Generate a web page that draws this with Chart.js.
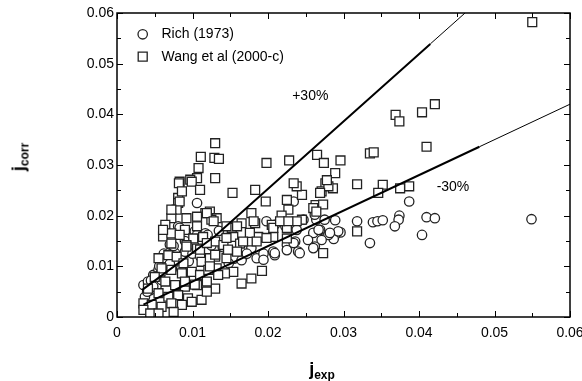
<!DOCTYPE html>
<html>
<head>
<meta charset="utf-8">
<script src="https://cdn.jsdelivr.net/npm/chart.js@4.4.1/dist/chart.umd.min.js"></script>
<style>
  html, body { margin: 0; padding: 0; background: #fff; }
  #wrap { position: relative; width: 582px; height: 381px; font-family: "Liberation Sans", Arial, sans-serif; }
  .axt { position: absolute; font-weight: bold; font-size: 18px; color: #000; white-space: nowrap; }
  .axt sub { font-size: 12px; vertical-align: -4px; }
  #ytitle { left: 20px; top: 157px; transform: translate(-50%, -50%) rotate(-90deg); }
  #xtitle { left: 322px; top: 370px; transform: translate(-50%, -50%); }
</style>
</head>
<body>
<div id="wrap">
  <canvas id="c" width="582" height="381"></canvas>
  <div class="axt" id="ytitle">j<sub>corr</sub></div>
  <div class="axt" id="xtitle">j<sub>exp</sub></div>
</div>
<script>
// Rich (1973) - cercles
var richX = [0.0387, 0.0374, 0.0373, 0.0368, 0.0410, 0.0421, 0.0404, 0.0335, 0.0318, 0.0339, 0.0345, 0.0352, 0.0549,
  0.0289, 0.0296, 0.0289, 0.0287, 0.0264, 0.0275, 0.0260, 0.0269, 0.0280, 0.0293, 0.0253, 0.0271, 0.0262,
  0.0185, 0.0194, 0.0207, 0.0209, 0.0225, 0.0236, 0.0225, 0.0240, 0.0198, 0.0209, 0.0223, 0.0238, 0.0247,
  0.0267, 0.0282, 0.0242, 0.0209, 0.0234, 0.0260, 0.0194, 0.0178, 0.0167, 0.0081, 0.0070, 0.0059, 0.0106,
  0.0234, 0.0262, 0.0083, 0.0103, 0.0035, 0.0041, 0.0048, 0.0055, 0.0064, 0.0068, 0.0077, 0.0090, 0.0106,
  0.0117, 0.0044, 0.0053, 0.0059, 0.0037, 0.0061, 0.0077, 0.0113, 0.0125, 0.0140, 0.0153, 0.0155, 0.0148,
  0.0165, 0.0172, 0.0120, 0.0135, 0.0045, 0.0052, 0.0060, 0.0048, 0.0040, 0.0056, 0.0070, 0.0085, 0.0095,
  0.0100, 0.0062, 0.0075, 0.0090, 0.0110];
var richY = [0.0228, 0.0200, 0.0192, 0.0179, 0.0197, 0.0195, 0.0162, 0.0146, 0.0189, 0.0187, 0.0189, 0.0191, 0.0193,
  0.0191, 0.0167, 0.0162, 0.0154, 0.0192, 0.0192, 0.0166, 0.0172, 0.0162, 0.0169, 0.0152, 0.0152, 0.0139,
  0.0116, 0.0125, 0.0129, 0.0122, 0.0142, 0.0149, 0.0132, 0.0129, 0.0189, 0.0182, 0.0179, 0.0172, 0.0192,
  0.0172, 0.0166, 0.0126, 0.0126, 0.0146, 0.0136, 0.0113, 0.0136, 0.0120, 0.0179, 0.0143, 0.0113, 0.0225,
  0.0228, 0.0202, 0.0176, 0.0169, 0.0063, 0.0070, 0.0083, 0.0093, 0.0109, 0.0119, 0.0122, 0.0129, 0.0162,
  0.0165, 0.0053, 0.0063, 0.0073, 0.0040, 0.0116, 0.0126, 0.0150, 0.0141, 0.0138, 0.0128, 0.0115, 0.0106,
  0.0112, 0.0125, 0.0162, 0.0170, 0.0072, 0.0080, 0.0090, 0.0060, 0.0050, 0.0100, 0.0105, 0.0095, 0.0110,
  0.0125, 0.0125, 0.0140, 0.0150, 0.0120];

// Wang et al (2000-c) - carres
var wangX = [0.0130, 0.0111, 0.0129, 0.0135, 0.0108, 0.0106, 0.0130, 0.0198, 0.0228, 0.0265, 0.0274, 0.0296, 0.0289,
  0.0083, 0.0097, 0.0550, 0.0369, 0.0374, 0.0404, 0.0421, 0.0410, 0.0335, 0.0340, 0.0286, 0.0318, 0.0352,
  0.0346, 0.0375, 0.0387, 0.0318, 0.0276, 0.0271, 0.0280, 0.0263, 0.0260, 0.0245, 0.0238, 0.0245, 0.0238,
  0.0153, 0.0183, 0.0197, 0.0234, 0.0225, 0.0227, 0.0178, 0.0218, 0.0123, 0.0132, 0.0152, 0.0165, 0.0183,
  0.0205, 0.0225, 0.0130, 0.0141, 0.0154, 0.0163, 0.0176, 0.0187, 0.0207, 0.0225, 0.0130, 0.0145, 0.0132,
  0.0154, 0.0143, 0.0130, 0.0165, 0.0178, 0.0192, 0.0099, 0.0110, 0.0082, 0.0081, 0.0081, 0.0079, 0.0072,
  0.0064, 0.0090, 0.0106, 0.0117, 0.0125, 0.0061, 0.0072, 0.0083, 0.0101, 0.0114, 0.0072, 0.0092, 0.0106,
  0.0068, 0.0079, 0.0055, 0.0088, 0.0112, 0.0123, 0.0059, 0.0072, 0.0086, 0.0099, 0.0110, 0.0121, 0.0050,
  0.0064, 0.0077, 0.0090, 0.0106, 0.0119, 0.0041, 0.0055, 0.0068, 0.0081, 0.0094, 0.0035, 0.0046, 0.0059,
  0.0072, 0.0086, 0.0099, 0.0112, 0.0035, 0.0044, 0.0055, 0.0075, 0.0278, 0.0269, 0.0273, 0.0264, 0.0273,
  0.0176, 0.0159, 0.0181, 0.0207, 0.0216, 0.0227, 0.0145, 0.0167, 0.0185, 0.0198, 0.0147, 0.0159, 0.0130,
  0.0110, 0.0119, 0.0092, 0.0123, 0.0134, 0.0119, 0.0103, 0.0090, 0.0086, 0.0083, 0.0072, 0.0061, 0.0092,
  0.0106, 0.0119, 0.0128, 0.0145];
var wangY = [0.0343, 0.0316, 0.0314, 0.0312, 0.0294, 0.0274, 0.0274, 0.0304, 0.0309, 0.0320, 0.0304, 0.0309, 0.0284,
  0.0267, 0.0271, 0.0582, 0.0399, 0.0386, 0.0404, 0.0420, 0.0336, 0.0323, 0.0325, 0.0254, 0.0262, 0.0261,
  0.0245, 0.0254, 0.0258, 0.0169, 0.0264, 0.0248, 0.0258, 0.0221, 0.0215, 0.0241, 0.0258, 0.0192, 0.0189,
  0.0245, 0.0251, 0.0228, 0.0264, 0.0231, 0.0212, 0.0205, 0.0200, 0.0208, 0.0195, 0.0176, 0.0185, 0.0185,
  0.0182, 0.0176, 0.0149, 0.0142, 0.0158, 0.0145, 0.0149, 0.0158, 0.0158, 0.0155, 0.0119, 0.0116, 0.0096,
  0.0089, 0.0086, 0.0056, 0.0066, 0.0076, 0.0091, 0.0267, 0.0251, 0.0264, 0.0235, 0.0225, 0.0212, 0.0195,
  0.0182, 0.0172, 0.0179, 0.0205, 0.0192, 0.0159, 0.0165, 0.0162, 0.0155, 0.0158, 0.0145, 0.0142, 0.0135,
  0.0122, 0.0119, 0.0116, 0.0106, 0.0109, 0.0116, 0.0096, 0.0093, 0.0086, 0.0089, 0.0083, 0.0093, 0.0079,
  0.0070, 0.0063, 0.0060, 0.0063, 0.0070, 0.0056, 0.0047, 0.0040, 0.0043, 0.0037, 0.0027, 0.0024, 0.0020,
  0.0027, 0.0024, 0.0030, 0.0034, 0.0014, 0.0007, 0.0007, 0.0010, 0.0270, 0.0245, 0.0222, 0.0208, 0.0126,
  0.0166, 0.0179, 0.0189, 0.0176, 0.0189, 0.0189, 0.0156, 0.0149, 0.0149, 0.0156, 0.0133, 0.0129, 0.0123,
  0.0133, 0.0146, 0.0139, 0.0100, 0.0083, 0.0050, 0.0064, 0.0070, 0.0248, 0.0228, 0.0212, 0.0172, 0.0195,
  0.0198, 0.0205, 0.0189, 0.0179];

// droites +30% / -30% (partie epaisse puis partie fine)
var plusX = [0.0033, 0.0130, 0.0415];
var plusY = [0.0053, 0.0160, 0.0539];
var plusFinX = [0.0415, 0.0461];
var plusFinY = [0.0539, 0.0600];
var moinsX = [0.0035, 0.0480];
var moinsY = [0.00245, 0.0336];
var moinsFinX = [0.0480, 0.0600];
var moinsFinY = [0.0336, 0.0420];

var TICKS = [0, 0.01, 0.02, 0.03, 0.04, 0.05, 0.06];
var MINOR = [0.005, 0.015, 0.025, 0.035, 0.045, 0.055];
var LEGENDE = ['Rich (1973)', 'Wang et al (2000-c)'];
var NOTES = [{ txt: '+30%', x: 0.0256, y: 0.0435 }, { txt: '-30%', x: 0.0445, y: 0.0257 }];

var FONT = '"Liberation Sans", Arial, sans-serif';

function pts(xs, ys) {
  return xs.map(function (x, i) { return { x: x, y: ys[i] }; });
}

function lineDs(xs, ys, w) {
  return {
    type: 'line', data: pts(xs, ys), borderColor: '#000', borderWidth: w,
    pointRadius: 0, fill: false, tension: 0, order: 0
  };
}

var cadre = {
  id: 'cadre',
  afterDraw: function (chart) {
    var c = chart.ctx, a = chart.chartArea;
    var sx = chart.scales.x, sy = chart.scales.y;
    c.save();
    c.strokeStyle = '#000';
    c.lineWidth = 1.5;
    c.strokeRect(a.left, a.top, a.right - a.left, a.bottom - a.top);
    c.lineWidth = 1;
    function marks(vals, len) {
      vals.forEach(function (v) {
        var px = Math.round(sx.getPixelForValue(v)) + 0.5;
        var py = Math.round(sy.getPixelForValue(v)) + 0.5;
        c.beginPath();
        c.moveTo(px, a.bottom); c.lineTo(px, a.bottom - len);
        c.moveTo(px, a.top); c.lineTo(px, a.top + len);
        c.moveTo(a.left, py); c.lineTo(a.left + len, py);
        c.moveTo(a.right, py); c.lineTo(a.right - len, py);
        c.stroke();
      });
    }
    marks(TICKS, 6);
    marks(MINOR, 4);

    // legende
    c.lineWidth = 1.3;
    c.strokeStyle = '#222';
    c.fillStyle = '#fff';
    c.beginPath();
    c.arc(a.left + 25.7, a.top + 21.3, 4.7, 0, Math.PI * 2);
    c.fill(); c.stroke();
    c.beginPath();
    c.rect(a.left + 21.2, a.top + 39.2, 9, 9);
    c.fill(); c.stroke();
    c.fillStyle = '#000';
    c.font = '14px ' + FONT;
    c.textBaseline = 'middle';
    c.textAlign = 'left';
    c.fillText(LEGENDE[0], a.left + 44.5, a.top + 21.5);
    c.fillText(LEGENDE[1], a.left + 44.5, a.top + 44);

    c.textAlign = 'center';
    NOTES.forEach(function (n) {
      c.fillText(n.txt, sx.getPixelForValue(n.x), sy.getPixelForValue(n.y));
    });
    c.restore();
  }
};

function fmt(v) {
  return v === 0 ? '0' : String(Math.round(v * 100) / 100);
}

new Chart(document.getElementById('c'), {
  type: 'scatter',
  data: {
    datasets: [
      lineDs(plusX, plusY, 2),
      lineDs(plusFinX, plusFinY, 1),
      lineDs(moinsX, moinsY, 2),
      lineDs(moinsFinX, moinsFinY, 1),
      {
        label: LEGENDE[1], data: pts(wangX, wangY), pointStyle: 'rect', pointRadius: 6.3,
        borderColor: '#222', backgroundColor: '#fff', borderWidth: 1.3, order: 1
      },
      {
        label: LEGENDE[0], data: pts(richX, richY), pointStyle: 'circle', pointRadius: 4.7,
        borderColor: '#222', backgroundColor: '#fff', borderWidth: 1.3, order: 2
      }
    ]
  },
  options: {
    responsive: false,
    animation: false,
    devicePixelRatio: 1,
    layout: { autoPadding: false, padding: { left: 0, top: 13, right: 12, bottom: 0 } },
    plugins: { legend: { display: false }, tooltip: { enabled: false } },
    scales: {
      x: {
        type: 'linear', min: 0, max: 0.06,
        grid: { display: false, drawTicks: false },
        border: { display: false },
        ticks: { stepSize: 0.01, padding: 8, color: '#000', font: { family: FONT, size: 14 }, callback: fmt, maxRotation: 0 },
        afterFit: function (s) {
          s.height = 64;
          s.paddingLeft = 0; s.paddingRight = 0;
        }
      },
      y: {
        type: 'linear', min: 0, max: 0.06,
        grid: { display: false, drawTicks: false },
        border: { display: false },
        ticks: { stepSize: 0.01, padding: 3, color: '#000', font: { family: FONT, size: 14 }, callback: fmt },
        afterFit: function (s) {
          s.width = 117;
          s.paddingTop = 0; s.paddingBottom = 0;
        }
      }
    }
  },
  plugins: [cadre]
});
</script>
</body>
</html>
